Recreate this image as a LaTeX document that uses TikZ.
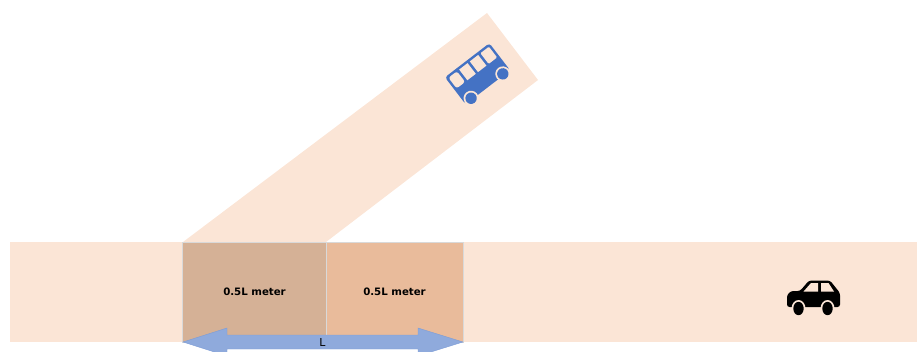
\documentclass[tikz,border=0pt]{standalone}
\usepackage{fontspec}
\setmainfont{DejaVu Sans}
\definecolor{roadcol}{HTML}{FBE5D6}
\definecolor{leftcol}{HTML}{D5B196}
\definecolor{rightcol}{HTML}{E9BB9B}
\definecolor{arrowcol}{HTML}{8FAADC}
\definecolor{buscol}{HTML}{4472C4}
\begin{document}
\begin{tikzpicture}[x=1pt,y=1pt,
    zone/.style={draw=black!15,line width=0.5pt},
    zonelabel/.style={font=\bfseries\fontsize{10.2}{12}\selectfont,text=black}]
    \clip (0,0) rectangle (917,351);
    % roads
    \fill[roadcol] (10,9) rectangle (917,109);
    \fill[roadcol] (183,109) -- (326,109) -- (538,271) -- (487,338) -- cycle;
    % conflict zone
    \fill[leftcol]  (182,9) rectangle (326,109);
    \fill[rightcol] (326,9) rectangle (463,109);
    \draw[zone] (182,9) rectangle (326,109);
    \draw[zone] (326,9) rectangle (463,109);
    \node[zonelabel] (leftlabel) at (254.5,59) {0.5L meter};
    \node[zonelabel] (rightlabel) at (394.5,59) {0.5L meter};
    % length arrow
    \filldraw[fill=arrowcol,draw=buscol!70,line width=0.4pt] (183,9) -- (227,23) -- (227,16) -- (418,16)
        -- (418,23) -- (463,9) -- (418,-5) -- (418,2) -- (227,2) -- (227,-5) -- cycle;
    \node[font=\fontsize{11}{13}\selectfont,inner sep=0pt] (lengthlabel) at (322.5,9) {L};
    % bus
    \begin{scope}[shift={(477.5,277.25)},rotate=37.5]
        \fill[buscol,rounded corners=3pt] (-28,-17) rectangle (28,17);
        \fill[roadcol,rounded corners=2.5pt] (-25.5,1) -- (-25.5,14.5) -- (-14.8,14.5) -- (-14.8,1) -- cycle;
        \fill[roadcol] (-12,1) rectangle (-1.4,14.5);
        \fill[roadcol] (1.4,1) rectangle (12,14.5);
        \fill[roadcol,rounded corners=1pt] (14.8,1) rectangle (25.5,14.5);
        \fill[roadcol] (-20,-15.5) circle (7.5);
        \fill[roadcol] (20,-15.5) circle (7.5);
        \fill[buscol] (-20,-15.5) circle (5.7);
        \fill[buscol] (20,-15.5) circle (5.7);
    \end{scope}
    % car
    \fill[black,rounded corners=2.5pt] (787,44) -- (787,56) -- (791,60) -- (800,60) -- (809,70.5)
        -- (830,70.5) -- (840,58) -- (840,44) -- cycle;
    \fill[roadcol] (803.5,59.5) -- (811,68) -- (818,68) -- (818,59.5) -- cycle;
    \fill[roadcol] (821,59.5) -- (821,68) -- (828.5,68) -- (834,59.5) -- cycle;
    \fill[roadcol] (798.5,42.5) ellipse (7 and 8.5);
    \fill[roadcol] (827.5,42.5) ellipse (7 and 8.5);
    \fill[black] (798.5,42.5) ellipse (5.2 and 6.7);
    \fill[black] (827.5,42.5) ellipse (5.2 and 6.7);
\end{tikzpicture}
\end{document}
